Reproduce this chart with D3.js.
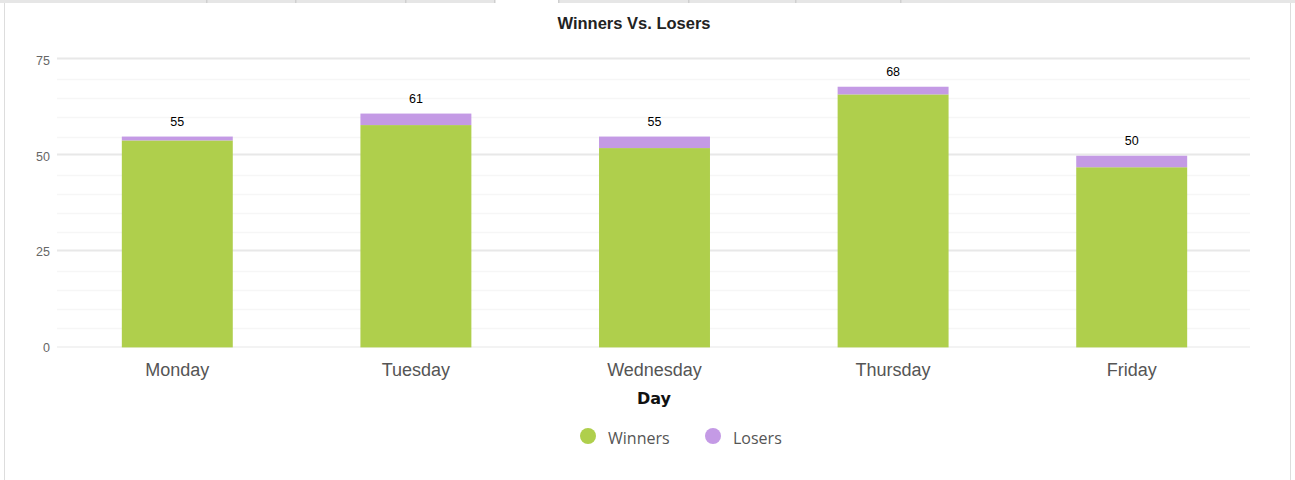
<!DOCTYPE html>
<html>
<head>
<meta charset="utf-8">
<script src="https://cdn.jsdelivr.net/npm/d3@7/dist/d3.min.js"></script>
<style>
html,body{margin:0;padding:0;background:#fff;}
svg{display:block;}
</style>
</head>
<body>
<svg id="chart" width="1295" height="480"></svg>
<script>
const categories = ["Monday", "Tuesday", "Wednesday", "Thursday", "Friday"];
const winners = [54, 58, 52, 66, 47];
const losers = [1, 3, 3, 2, 3];
const yTicks = [0, 25, 50, 75];
const seriesNames = ["Winners", "Losers"];
const seriesColors = ["#afcf4c", "#c49ae5"];

const svg = d3.select("#chart");
const W = 1295, H = 480;

// frame / tabs
const frame = svg.append("g");
frame.append("rect").attr("x", 0).attr("y", 0).attr("width", W).attr("height", 3).attr("fill", "#e6e6e6");
frame.append("rect").attr("x", 494).attr("y", 0).attr("width", 64).attr("height", 3).attr("fill", "#fff");
[206, 295, 405, 494, 558, 688, 795, 900].forEach(x => {
  frame.append("rect").attr("x", x).attr("y", 0).attr("width", 1.5).attr("height", 3).attr("fill", "#cfcfcf");
});
frame.append("line").attr("x1", 4.5).attr("x2", 4.5).attr("y1", 3).attr("y2", H).attr("stroke", "#dddddd");
frame.append("line").attr("x1", 1290.5).attr("x2", 1290.5).attr("y1", 3).attr("y2", H).attr("stroke", "#dddddd");

const x = d3.scaleBand().domain(categories).range([58, 1251]).paddingInner(0.535).paddingOuter(0.2675);
const y = d3.scaleLinear().domain([0, 75]).range([347.4, 59.9]);

// grid
const grid = svg.append("g");
const minor = d3.range(0, 76, 5).filter(v => v % 25 !== 0);
grid.selectAll("line.minor").data(minor).enter().append("line")
  .attr("x1", 57).attr("x2", 1250)
  .attr("y1", d => Math.round(y(d)) + 0.5).attr("y2", d => Math.round(y(d)) + 0.5)
  .attr("stroke", "#f6f6f6").attr("stroke-width", 1.5);
grid.selectAll("line.major").data(yTicks).enter().append("line")
  .attr("x1", 57).attr("x2", 1250)
  .attr("y1", d => Math.round(y(d)) - 1.5 + (d === 0 ? 1.5 : 0)).attr("y2", d => Math.round(y(d)) - 1.5 + (d === 0 ? 1.5 : 0))
  .attr("stroke", d => d === 0 ? "#f3f3f3" : "#e8e8e8").attr("stroke-width", 2);

// y axis labels
const yAxis = svg.append("g").attr("transform", "translate(50,0)")
  .call(d3.axisLeft(y).tickValues(yTicks).tickSize(0).tickPadding(0));
yAxis.select(".domain").remove();
yAxis.selectAll("text").attr("font-family", "Liberation Sans, Arial, sans-serif")
  .attr("font-size", 12.5).attr("fill", "#666").attr("dy", "0.35em");

// stacked bars
const stackData = categories.map((c, i) => ({ cat: c, Winners: winners[i], Losers: losers[i] }));
const stack = d3.stack().keys(seriesNames)(stackData);
svg.append("g").selectAll("g").data(stack).enter().append("g")
  .attr("fill", (d, i) => seriesColors[i])
  .selectAll("rect").data(d => d).enter().append("rect")
  .attr("x", d => x(d.data.cat))
  .attr("width", x.bandwidth())
  .attr("y", d => y(d[1]))
  .attr("height", d => y(d[0]) - y(d[1]));

// total labels
svg.append("g").selectAll("text").data(stackData).enter().append("text")
  .attr("x", d => x(d.cat) + x.bandwidth() / 2)
  .attr("y", d => y(d.Winners + d.Losers) - 10.5)
  .attr("text-anchor", "middle")
  .attr("font-family", "Liberation Sans, Arial, sans-serif")
  .attr("font-size", 12.5).attr("fill", "#000")
  .text(d => d.Winners + d.Losers);

// x axis labels
const xAxis = svg.append("g").attr("transform", "translate(0,347)")
  .call(d3.axisBottom(x).tickSize(0).tickPadding(0));
xAxis.select(".domain").remove();
xAxis.selectAll("text").attr("font-family", "Liberation Sans, Arial, sans-serif")
  .attr("font-size", 18).attr("fill", "#555").attr("dy", null).attr("y", 29);

// axis title
svg.append("text").attr("x", 654).attr("y", 404).attr("text-anchor", "middle")
  .attr("font-family", "DejaVu Sans, sans-serif").attr("font-weight", "bold")
  .attr("font-size", 16).attr("fill", "#111").text("Day");

// title
svg.append("text").attr("x", 634).attr("y", 29).attr("text-anchor", "middle")
  .attr("font-family", "Liberation Sans, Arial, sans-serif").attr("font-weight", "bold")
  .attr("font-size", 16.5).attr("fill", "#222").text("Winners Vs. Losers");

// legend
const legendX = [588, 713];
const lg = svg.append("g");
seriesNames.forEach((n, i) => {
  lg.append("circle").attr("cx", legendX[i]).attr("cy", 436).attr("r", 8).attr("fill", seriesColors[i]);
  lg.append("text").attr("x", legendX[i] + 20).attr("y", 444)
    .attr("font-family", "Open Sans, DejaVu Sans, sans-serif")
    .attr("font-size", 16).attr("fill", "#555").text(n);
});
</script>
</body>
</html>
